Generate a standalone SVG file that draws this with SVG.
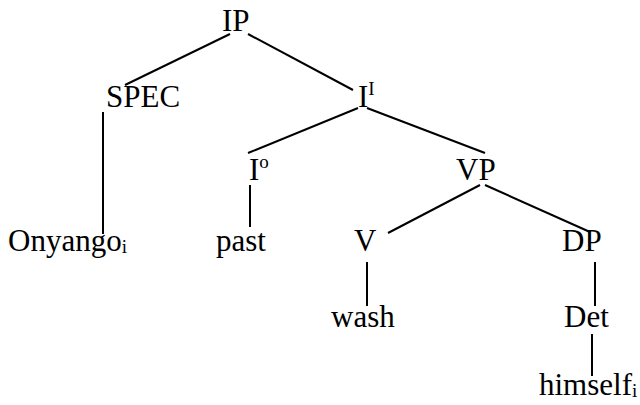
<svg xmlns="http://www.w3.org/2000/svg" width="640" height="405" viewBox="0 0 640 405">
<style>
text{font-family:"Liberation Serif","DejaVu Serif","Times New Roman",serif;font-size:31px;fill:#000}
.s{font-size:19px}
line{stroke:#000;stroke-width:2}
</style>
<rect width="640" height="405" fill="#fff"/>
<g id="connectors">
<line x1="230" y1="34" x2="125" y2="85"/>
<line x1="248" y1="34" x2="353" y2="90"/>
<line x1="103" y1="112" x2="103" y2="234"/>
<line x1="358" y1="108" x2="248" y2="153"/>
<line x1="367" y1="108" x2="485" y2="153"/>
<line x1="250" y1="185" x2="250" y2="227"/>
<line x1="480" y1="185" x2="388" y2="233"/>
<line x1="485" y1="185" x2="590" y2="232"/>
<line x1="367" y1="262" x2="367" y2="306"/>
<line x1="595" y1="262" x2="595" y2="306"/>
<line x1="592" y1="334" x2="592" y2="376"/>
</g>
<g id="IP"><text x="222" y="31">IP</text></g>
<g id="SPEC"><text x="106" y="107">SPEC</text></g>
<g id="Ibar"><text x="358" y="107">I<tspan class="s" dy="-12">I</tspan></text></g>
<g id="I0"><text x="249" y="180">I<tspan class="s" dy="-12">o</tspan></text></g>
<g id="VP"><text x="456" y="180">VP</text></g>
<g id="Onyango"><text x="8" y="251">Onyango<tspan class="s" dy="2">i</tspan></text></g>
<g id="past"><text x="216" y="251">past</text></g>
<g id="V"><text x="354" y="251">V</text></g>
<g id="DP"><text x="562" y="251">DP</text></g>
<g id="wash"><text x="331" y="327">wash</text></g>
<g id="Det"><text x="564" y="327">Det</text></g>
<g id="himself"><text x="539" y="395">himself<tspan class="s" dy="2">i</tspan></text></g>
</svg>
